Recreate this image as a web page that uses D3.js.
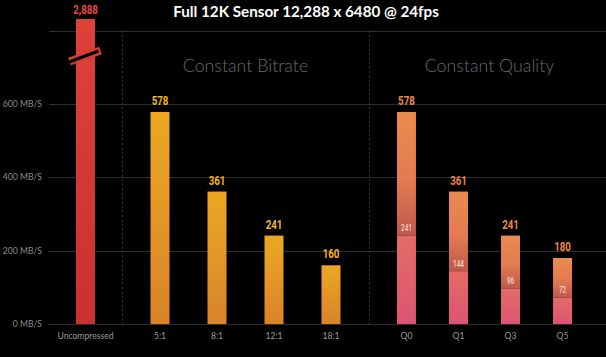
<!DOCTYPE html>
<html><head><meta charset="utf-8">
<script src="https://cdn.jsdelivr.net/npm/d3@7"></script>
<style>
html,body{margin:0;padding:0;background:#000;}
svg{display:block;}
</style></head>
<body>
<svg id="c" width="606" height="357"></svg>
<script>
const title = "Full 12K Sensor 12,288 x 6480 @ 24fps";
const uncompressedCats = ["Uncompressed"];
const uncompressedValues = [2888];
const cbrCats = ["5:1","8:1","12:1","18:1"];
const cbrValues = [578,361,241,160];
const cqCats = ["Q0","Q1","Q3","Q5"];
const cqValues = [578,361,241,180];
const cqInnerValues = [241,144,96,72];
const sectionTitles = ["Constant Bitrate","Constant Quality"];
const yTicks = [0,200,400,600,800];
const yTickLabels = ["0 MB/S","200 MB/S","400 MB/S","600 MB/S",""];

const svg = d3.select("#c");
const W = 606, H = 357;
svg.append("rect").attr("width",W).attr("height",H).attr("fill","#000");

const plotLeft = 49, plotRight = 606, div1 = 122, div2 = 369;
const y = d3.scaleLinear().domain([0,800]).range([324,30.5]);

const xUnc = d3.scalePoint().domain(uncompressedCats).range([plotLeft,div1]).padding(0.5);
const xCbr = d3.scalePoint().domain(cbrCats).range([div1,div2]).padding(0.667);
const xCq = d3.scalePoint().domain(cqCats).range([div2,600]).padding(0.72);
const bw = 19;
const SX = 0.72; // horizontal condensing for value labels

const defs = svg.append("defs");
function grad(id, stops){
  const g = defs.append("linearGradient").attr("id",id).attr("x1",0).attr("x2",0).attr("y1",0).attr("y2",1);
  stops.forEach(s=>g.append("stop").attr("offset",s[0]).attr("stop-color",s[1]));
}
grad("gUnc",[["0%","#dd4239"],["100%","#c9312f"]]);
grad("gCbr",[["0%","#eba822"],["100%","#da832a"]]);
grad("gCqTop",[["0%","#ea8b4e"],["55%","#e37b50"],["100%","#be584c"]]);
grad("gCqBot",[["0%","#e46c66"],["100%","#dc5472"]]);

// grid
const grid = svg.append("g");
grid.selectAll("line").data(yTicks).join("line")
  .attr("x1",plotLeft).attr("x2",plotRight)
  .attr("y1",d=>Math.round(y(d))+0.5).attr("y2",d=>Math.round(y(d))+0.5)
  .attr("stroke","#2e2e2e").attr("stroke-width",1.2);

// y axis labels
svg.append("g").selectAll("text").data(yTicks).join("text")
  .attr("x",42).attr("y",d=>y(d)+3)
  .attr("text-anchor","end")
  .attr("font-family","Lato, 'Open Sans', sans-serif").attr("font-size",8.6)
  .attr("fill","#8c8c8c")
  .text((d,i)=>yTickLabels[i]);

// dividers
svg.append("g").selectAll("line").data([div1,div2]).join("line")
  .attr("x1",d=>d+0.5).attr("x2",d=>d+0.5).attr("y1",y(800)).attr("y2",y(0)+1)
  .attr("stroke","#3a3a3a").attr("stroke-width",1).attr("stroke-dasharray","2,2.5");

// title
svg.append("text").attr("x",306).attr("y",17).attr("text-anchor","middle")
  .attr("font-family","Lato, 'Open Sans', sans-serif").attr("font-weight",700).attr("font-size",15.2)
  .attr("fill","#fff").text(title);

// section titles
svg.append("g").selectAll("text").data(sectionTitles).join("text")
  .attr("x",(d,i)=> i===0 ? (div1+div2)/2 : (div2+plotRight)/2+2)
  .attr("y",72).attr("text-anchor","middle")
  .attr("font-family","Lato, 'Open Sans', sans-serif").attr("font-weight",300).attr("font-size",17.8)
  .attr("fill","#6a6a6a").text(d=>d);

const valFont = "Roboto, 'DejaVu Sans', sans-serif";
function valLabel(sel, xf, yf, color, size, weight){
  sel.attr("transform",(d,i)=>`translate(${xf(d,i)},${yf(d,i)}) scale(${SX},1)`)
    .attr("text-anchor","middle").attr("font-family",valFont)
    .attr("font-weight",weight).attr("font-size",size).attr("fill",color);
}

// uncompressed bar (broken axis)
const uncTop = y(800) - 11.5;
svg.append("g").selectAll("rect").data(uncompressedValues).join("rect")
  .attr("x",(d,i)=>xUnc(uncompressedCats[i]) - bw/2)
  .attr("y",uncTop).attr("width",bw).attr("height",y(0)-uncTop)
  .attr("fill","url(#gUnc)");
valLabel(svg.append("g").selectAll("text").data(uncompressedValues).join("text").text(d=>d3.format(",")(d)),
  (d,i)=>xUnc(uncompressedCats[i]), ()=>uncTop-5, "#e8463f", 13.5, 700);
// break symbol
const bx = xUnc(uncompressedCats[0]);
const brk = svg.append("g");
brk.append("line").attr("x1",bx-16).attr("y1",y(800)+31).attr("x2",bx+15).attr("y2",y(800)+20)
  .attr("stroke","#d83d36").attr("stroke-width",8);
brk.append("line").attr("x1",bx-19).attr("y1",y(800)+32.5).attr("x2",bx+13).attr("y2",y(800)+20.5)
  .attr("stroke","#000").attr("stroke-width",3.2);

// CBR bars
const cbr = svg.append("g");
cbr.selectAll("rect").data(cbrValues).join("rect")
  .attr("x",(d,i)=>xCbr(cbrCats[i]) - bw/2).attr("y",d=>y(d))
  .attr("width",bw).attr("height",d=>y(0)-y(d)).attr("fill","url(#gCbr)");
valLabel(cbr.selectAll("text").data(cbrValues).join("text").text(d=>d),
  (d,i)=>xCbr(cbrCats[i]), d=>y(d)-7, "#f4b51f", 13.5, 700);

// CQ bars
const cq = svg.append("g");
cq.selectAll("rect.top").data(cqValues).join("rect").attr("class","top")
  .attr("x",(d,i)=>xCq(cqCats[i]) - bw/2).attr("y",d=>y(d))
  .attr("width",bw).attr("height",(d,i)=>y(cqInnerValues[i])-y(d)).attr("fill","url(#gCqTop)");
cq.selectAll("rect.bot").data(cqInnerValues).join("rect").attr("class","bot")
  .attr("x",(d,i)=>xCq(cqCats[i]) - bw/2).attr("y",d=>y(d))
  .attr("width",bw).attr("height",d=>y(0)-y(d)).attr("fill","url(#gCqBot)");
valLabel(cq.selectAll("text.v").data(cqValues).join("text").attr("class","v").text(d=>d),
  (d,i)=>xCq(cqCats[i]), d=>y(d)-7, "#ee8a48", 13.5, 700);
valLabel(cq.selectAll("text.in").data(cqInnerValues).join("text").attr("class","in").text(d=>d),
  (d,i)=>xCq(cqCats[i]), d=>y(d)-4.5, "#f6d6cc", 8.8, 500);

// category labels
const allCats = [...uncompressedCats.map(c=>[c,xUnc(c)]), ...cbrCats.map(c=>[c,xCbr(c)]), ...cqCats.map(c=>[c,xCq(c)])];
svg.append("g").selectAll("text").data(allCats).join("text")
  .attr("x",d=>d[1]).attr("y",339).attr("text-anchor","middle")
  .attr("font-family","Lato, 'Open Sans', sans-serif").attr("font-size",8.6)
  .attr("fill","#9a9a9a").text(d=>d[0]);
</script>
</body></html>
